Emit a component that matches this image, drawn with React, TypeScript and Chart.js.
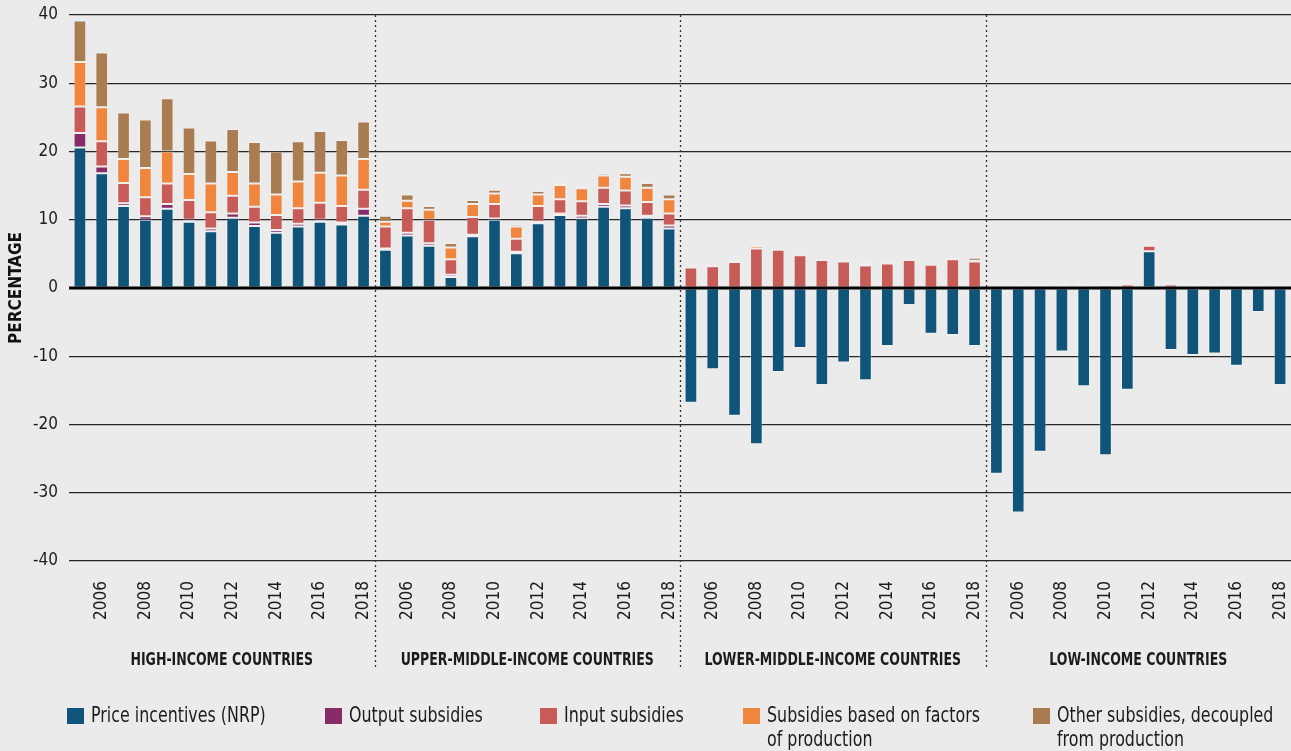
import React, { useEffect, useRef } from "react";
import { Chart, registerables } from "chart.js";

Chart.register(...registerables);

// ---------- data ----------
const YEARS = ["2005", "2006", "2007", "2008", "2009", "2010", "2011", "2012", "2013", "2014", "2015", "2016", "2017", "2018"];
const GROUPS = ["HIGH-INCOME COUNTRIES", "UPPER-MIDDLE-INCOME COUNTRIES", "LOWER-MIDDLE-INCOME COUNTRIES", "LOW-INCOME COUNTRIES"];
const SERIES_NAMES = [
  "Price incentives (NRP)",
  "Output subsidies",
  "Input subsidies",
  "Subsidies based on factors\nof production",
  "Other subsidies, decoupled\nfrom production",
];
const COLORS = ["#10547a", "#872c68", "#c75b58", "#f0853e", "#a97c51"];

// each array: high, upper-middle, lower-middle, low income (2005..2018)
const PRICE_INCENTIVES = [
  20.6, 16.8, 12.0, 10.0, 11.6, 9.7, 8.3, 10.3, 9.1, 8.1, 9.0, 9.7, 9.3, 10.6,
  5.6, 7.7, 6.2, 1.6, 7.6, 10.0, 5.1, 9.5, 10.7, 10.2, 11.9, 11.7, 10.3, 8.7,
  -16.8, -11.9, -18.7, -22.9, -12.3, -8.8, -14.2, -10.9, -13.5, -8.5, -2.5, -6.7, -6.9, -8.5,
  -27.2, -32.9, -24.0, -9.3, -14.4, -24.5, -14.9, 5.4, -9.1, -9.8, -9.6, -11.4, -3.5, -14.2,
];
const OUTPUT_SUBSIDIES = [
  2.1, 1.0, 0.4, 0.5, 0.7, 0.3, 0.4, 0.6, 0.5, 0.4, 0.4, 0.3, 0.3, 1.0,
  0.2, 0.4, 0.35, 0.35, 0.2, 0.2, 0.2, 0.2, 0.2, 0.4, 0.4, 0.4, 0.3, 0.45,
  0, 0, 0, 0, 0, 0, 0, 0, 0, 0, 0, 0, 0, 0,
  0, 0, 0, 0, 0, 0, 0, 0, 0, 0, 0, 0, 0, 0,
];
const INPUT_SUBSIDIES = [
  3.9, 3.7, 3.0, 2.8, 3.0, 2.9, 2.4, 2.6, 2.3, 2.2, 2.3, 2.5, 2.4, 2.8,
  3.2, 3.6, 3.45, 2.25, 2.6, 2.1, 1.9, 2.3, 2.1, 2.1, 2.4, 2.2, 2.0, 1.75,
  3.0, 3.2, 3.8, 5.8, 5.6, 4.8, 4.1, 3.9, 3.3, 3.6, 4.1, 3.4, 4.2, 3.9,
  0.1, 0.1, 0.2, 0.3, 0.3, 0.4, 0.5, 0.8, 0.5, 0.3, 0.3, 0.3, 0.2, 0.1,
];
const FACTOR_SUBSIDIES = [
  6.5, 5.0, 3.5, 4.3, 4.7, 3.8, 4.2, 3.5, 3.4, 3.0, 3.9, 4.4, 4.5, 4.5,
  0.7, 1.1, 1.45, 1.75, 1.9, 1.55, 1.8, 1.7, 2.1, 1.9, 1.8, 2.0, 2.1, 2.1,
  0.1, 0.05, 0.2, 0.35, 0.1, 0.1, 0.05, 0.05, 0.2, 0.25, 0.05, 0.05, 0.05, 0.1,
  0.05, 0.1, 0.2, 0.2, 0.2, 0.3, 0.2, 0.05, 0.2, 0.2, 0.2, 0.2, 0.2, 0.1,
];
const OTHER_SUBSIDIES = [
  6.1, 8.0, 6.8, 7.1, 7.8, 6.8, 6.3, 6.3, 6.1, 6.3, 5.9, 6.1, 5.2, 5.5,
  0.9, 0.9, 0.55, 0.65, 0.6, 0.55, 0.35, 0.5, 0.3, 0.3, 0.3, 0.5, 0.7, 0.7,
  0.1, 0.15, 0.1, 0.05, 0.1, 0.1, 0.15, 0.15, 0.2, 0.15, 0.15, 0.15, 0.2, 0.45,
  0.05, 0.2, 0.2, 0.2, 0.2, 0.2, 0.2, 0.15, 0.2, 0.2, 0.2, 0.2, 0.2, 0.2,
];
const Y_MIN = -40;
const Y_MAX = 40;
const Y_STEP = 10;
const Y_TITLE = "PERCENTAGE";

// ---------- styling ----------
const FONT = "'Liberation Sans Narrow', 'DejaVu Sans Condensed', 'Liberation Sans', sans-serif";
const BG = "#ebebeb";
const INK = "#1c1c1c";
const LEGEND_X = [67, 325, 540, 743, 1033];

function condensedText(ctx: any, text: string, x: number, y: number, sx: number, align: string) {
  ctx.save();
  ctx.translate(x, y);
  ctx.scale(sx, 1);
  ctx.textAlign = align;
  ctx.fillText(text, 0, 0);
  ctx.restore();
}

const decorPlugin = {
  id: "decor",
  beforeDraw(chart: any) {
    const { ctx, width, height } = chart;
    ctx.save();
    ctx.fillStyle = BG;
    ctx.fillRect(0, 0, width, height);
    ctx.restore();
  },
  afterDatasetsDraw(chart: any) {
    const { ctx, chartArea } = chart;
    const y0 = chart.scales.y.getPixelForValue(0);
    ctx.save();
    ctx.strokeStyle = "#000";
    ctx.lineWidth = 3;
    ctx.beginPath();
    ctx.moveTo(chartArea.left, y0);
    ctx.lineTo(chartArea.right, y0);
    ctx.stroke();
    ctx.restore();
  },
  afterDraw(chart: any) {
    const { ctx, chartArea } = chart;
    const xs = chart.scales.x;
    const n = YEARS.length;
    ctx.save();
    // dotted separators
    ctx.strokeStyle = "#333";
    ctx.lineWidth = 1.3;
    ctx.setLineDash([2, 3]);
    for (let g = 1; g < GROUPS.length; g++) {
      const x = Math.round((xs.getPixelForValue(g * n - 1) + xs.getPixelForValue(g * n)) / 2) + 0.5;
      ctx.beginPath();
      ctx.moveTo(x, chartArea.top);
      ctx.lineTo(x, 668);
      ctx.stroke();
    }
    ctx.setLineDash([]);
    // group labels
    ctx.fillStyle = INK;
    ctx.font = `bold 17px ${FONT}`;
    ctx.textBaseline = "middle";
    GROUPS.forEach((name, g) => {
      const cx = (xs.getPixelForValue(g * n) + xs.getPixelForValue(g * n + n - 1)) / 2;
      condensedText(ctx, name, cx, 661, 0.82, "center");
    });
    // legend
    ctx.font = `21px ${FONT}`;
    SERIES_NAMES.forEach((name, i) => {
      const x = LEGEND_X[i];
      ctx.fillStyle = COLORS[i];
      ctx.fillRect(x, 708, 17, 16);
      ctx.fillStyle = INK;
      name.split("\n").forEach((line, li) => {
        condensedText(ctx, line, x + 24, 717 + li * 24, 0.84, "left");
      });
    });
    ctx.restore();
  },
};

export default function App() {
  const ref = useRef<HTMLCanvasElement | null>(null);

  useEffect(() => {
    document.body.style.margin = "0";
    const labels: string[] = [];
    GROUPS.forEach(() => YEARS.forEach((y) => labels.push(y)));
    const seriesData = [PRICE_INCENTIVES, OUTPUT_SUBSIDIES, INPUT_SUBSIDIES, FACTOR_SUBSIDIES, OTHER_SUBSIDIES];
    const chart = new Chart(ref.current as HTMLCanvasElement, {
      type: "bar",
      data: {
        labels,
        datasets: seriesData.map((d, i) => ({
          label: SERIES_NAMES[i],
          data: d,
          backgroundColor: COLORS[i],
          borderColor: "rgba(255,255,255,0.28)",
          borderWidth: 1,
          borderSkipped: false,
          categoryPercentage: 1,
          barPercentage: 0.58,
        })),
      },
      options: {
        animation: false,
        responsive: false,
        devicePixelRatio: 1,
        layout: { padding: { top: 15, right: 0, bottom: 0, left: 0 } },
        plugins: {
          legend: { display: false },
          tooltip: { enabled: false },
        },
        scales: {
          x: {
            stacked: true,
            grid: { display: false },
            border: { display: false },
            ticks: {
              autoSkip: false,
              minRotation: 90,
              maxRotation: 90,
              padding: 12,
              color: INK,
              font: { family: FONT, size: 17 },
              callback: (_v: any, i: number) => {
                const y = labels[i];
                return Number(y) % 2 === 0 ? y : "";
              },
            },
            afterFit: (scale: any) => {
              scale.height = 190;
              scale.paddingLeft = 0;
              scale.paddingRight = 0;
            },
          },
          y: {
            stacked: true,
            min: Y_MIN,
            max: Y_MAX,
            border: { display: false },
            grid: {
              drawTicks: false,
              color: (c: any) => (c.tick && c.tick.value === 0 ? "rgba(0,0,0,0)" : "#262626"),
              lineWidth: 1.2,
            },
            ticks: {
              stepSize: Y_STEP,
              padding: 11,
              color: INK,
              font: { family: FONT, size: 17 },
            },
            title: {
              display: true,
              text: Y_TITLE,
              color: "#111",
              font: { family: FONT, size: 17, weight: "bold" },
              padding: { top: 6, bottom: 0 },
            },
            afterFit: (scale: any) => {
              scale.width = 69;
              scale.paddingTop = 0;
              scale.paddingBottom = 0;
            },
          },
        },
      },
      plugins: [decorPlugin],
    } as any);
    return () => chart.destroy();
  }, []);

  return (
    <div style={{ position: "fixed", left: 0, top: 0, width: 1291, height: 751, background: BG }}>
      <canvas ref={ref} width={1291} height={751} style={{ display: "block", width: 1291, height: 751 }} />
    </div>
  );
}
